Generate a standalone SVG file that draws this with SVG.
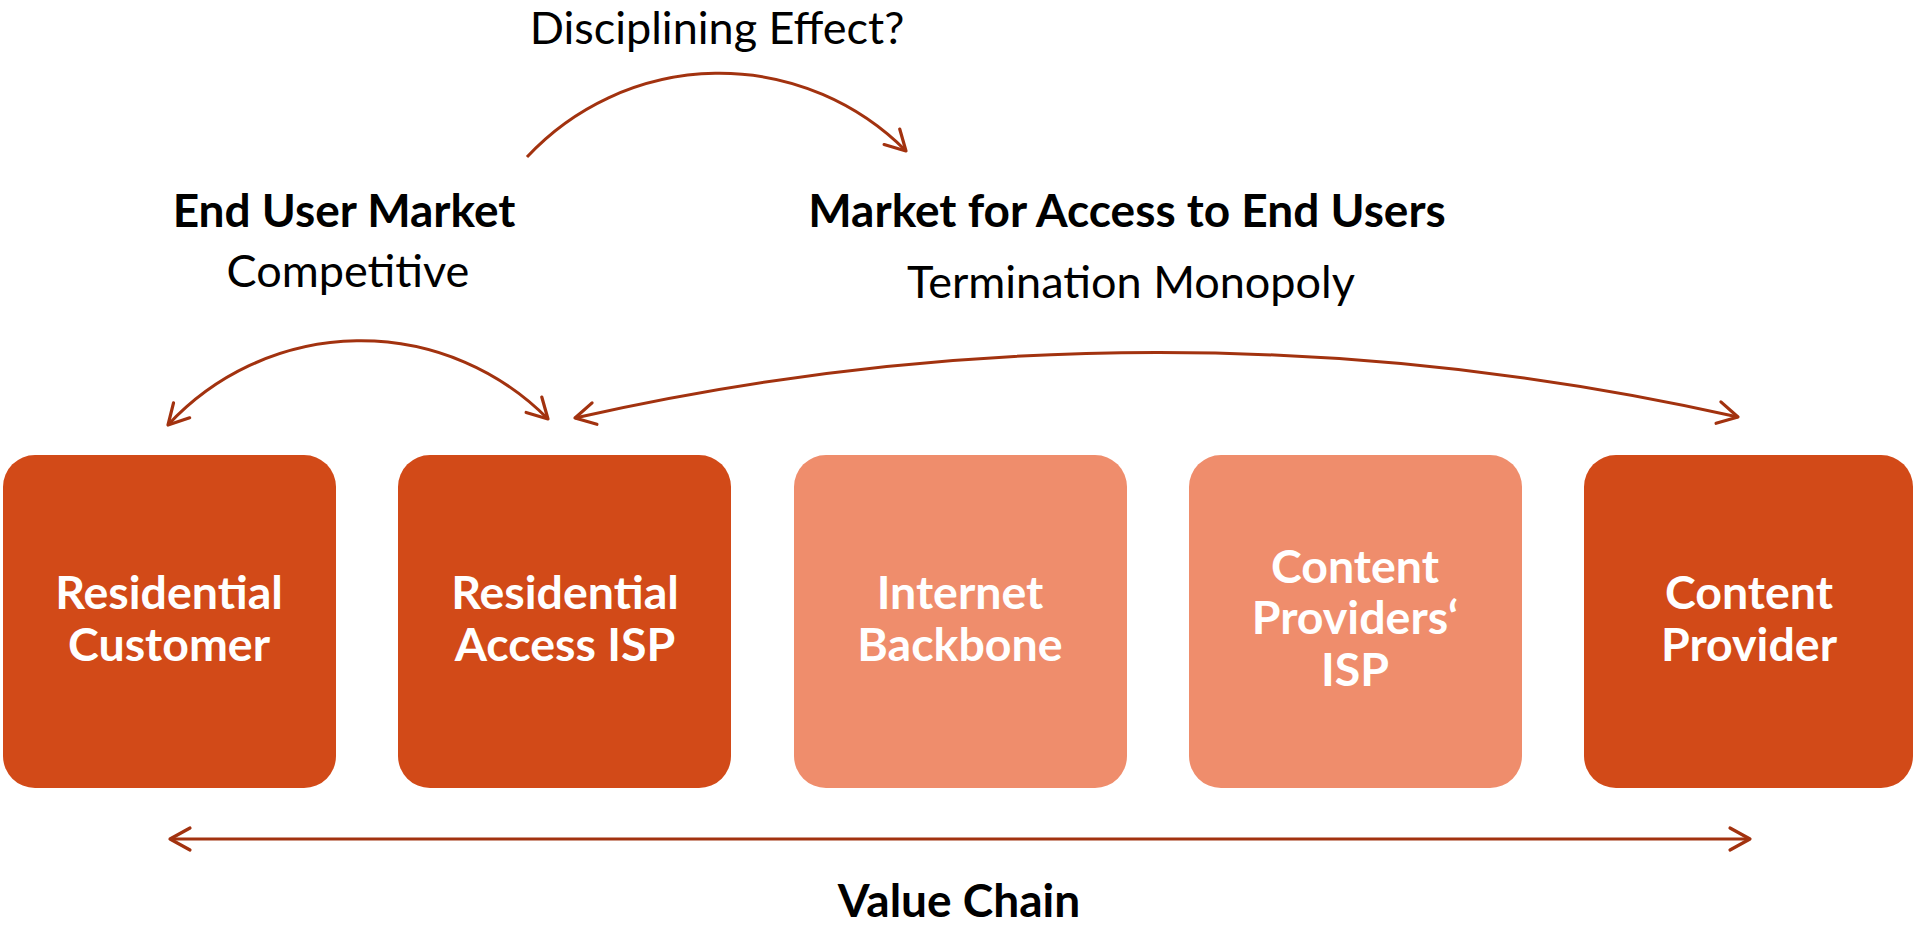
<svg xmlns="http://www.w3.org/2000/svg" width="1915" height="926" viewBox="0 0 1915 926">
<style>
.dark{fill:#D24A18}
.light{fill:#EF8D6C}
.bt{font-family:Lato,"Liberation Sans",sans-serif;font-weight:bold;font-size:46.5px;fill:#FFFFFF;text-anchor:middle}
.hb{font-family:Lato,"Liberation Sans",sans-serif;font-weight:bold;font-size:46px;fill:#000000;text-anchor:middle}
.hr{font-family:Lato,"Liberation Sans",sans-serif;font-size:45px;fill:#000000;text-anchor:middle}
.con{fill:none;stroke:#A2320F;stroke-width:3}
</style>
<defs>
<marker id="ah" markerUnits="userSpaceOnUse" viewBox="-26 -16 30 32" refX="0" refY="0" markerWidth="30" markerHeight="32" orient="auto-start-reverse">
<path d="M-20,-11 L0,0 L-20,11" fill="none" stroke="#A2320F" stroke-width="3.2" stroke-linecap="round" stroke-linejoin="round"/>
</marker>
</defs>
<rect width="1915" height="926" fill="#FFFFFF"/>
<g id="connectors">
<path class="con" d="M527,157 A263,263 0 0 1 906,151" marker-end="url(#ah)"/>
<path class="con" d="M168,425 A263,263 0 0 1 548,419" marker-start="url(#ah)" marker-end="url(#ah)"/>
<path class="con" d="M575,418 A2634,2634 0 0 1 1738,417" marker-start="url(#ah)" marker-end="url(#ah)"/>
<path class="con" d="M170,839 L1750,839" marker-start="url(#ah)" marker-end="url(#ah)"/>
</g>
<g id="labels">
<text class="hr" x="717" y="44" font-size="44">Disciplining Effect?</text>
<text class="hb" x="344" y="227">End User Market</text>
<text class="hr" x="348" y="287">Competitive</text>
<text class="hb" x="1127" y="227">Market for Access to End Users</text>
<text class="hr" x="1131" y="298">Termination Monopoly</text>
<text class="hb" x="959" y="917">Value Chain</text>
</g>
<g id="n1">
<rect class="dark" x="3" y="455" width="333" height="333" rx="32"/>
<text class="bt" x="169" y="609">Residential</text>
<text class="bt" x="169" y="661">Customer</text>
</g>
<g id="n2">
<rect class="dark" x="398" y="455" width="333" height="333" rx="32"/>
<text class="bt" x="565" y="609">Residential</text>
<text class="bt" x="565" y="661">Access ISP</text>
</g>
<g id="n3">
<rect class="light" x="794" y="455" width="333" height="333" rx="32"/>
<text class="bt" x="960" y="609">Internet</text>
<text class="bt" x="960" y="661">Backbone</text>
</g>
<g id="n4">
<rect class="light" x="1189" y="455" width="333" height="333" rx="32"/>
<text class="bt" x="1355" y="583">Content</text>
<text class="bt" x="1355" y="634">Providers‘</text>
<text class="bt" x="1355" y="686">ISP</text>
</g>
<g id="n5">
<rect class="dark" x="1584" y="455" width="329" height="333" rx="32"/>
<text class="bt" x="1749" y="609">Content</text>
<text class="bt" x="1749" y="661">Provider</text>
</g>
</svg>
